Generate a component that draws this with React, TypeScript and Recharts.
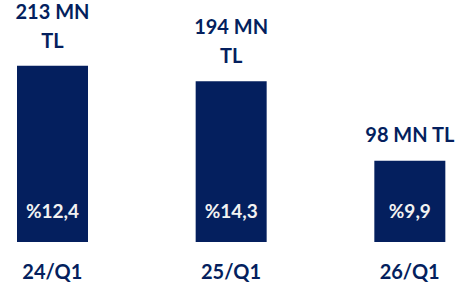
import { BarChart, Bar, XAxis, YAxis, LabelList } from "recharts";

const periods = ["24/Q1", "25/Q1", "26/Q1"];
const amounts = [213, 194, 98]; // MN TL
const rates = ["%12,4", "%14,3", "%9,9"];

const NAVY = "#041F5E";
const FONT = "Lato, 'Open Sans', sans-serif";

const data = periods.map((p, i) => ({
  period: p,
  amount: amounts[i],
  rate: rates[i],
}));

// Amount label above bar; long labels wrap like the original (three-digit values)
const AmountLabel = (props: any) => {
  const { x, y, width, value } = props;
  const cx = x + width / 2;
  const text = `${value} MN TL`;
  const wrap = text.length > 8;
  const style = { fontFamily: FONT, fontWeight: 700, fontSize: 20, fill: NAVY };
  if (wrap) {
    return (
      <g>
        <text x={cx} y={y - 47} textAnchor="middle" style={style}>
          {`${value} MN`}
        </text>
        <text x={cx} y={y - 18} textAnchor="middle" style={style}>
          TL
        </text>
      </g>
    );
  }
  return (
    <text x={cx} y={y - 19} textAnchor="middle" style={style}>
      {text}
    </text>
  );
};

// Rate label near the base of the bar
const RateLabel = (props: any) => {
  const { x, y, width, height, value } = props;
  return (
    <text
      x={x + width / 2}
      y={y + height - 24}
      textAnchor="middle"
      style={{ fontFamily: FONT, fontWeight: 700, fontSize: 19, fill: "#F2F2F2" }}
    >
      {value}
    </text>
  );
};

const PeriodTick = (props: any) => {
  const { x, y, payload } = props;
  return (
    <text
      x={x}
      y={y + 37}
      textAnchor="middle"
      style={{ fontFamily: FONT, fontWeight: 700, fontSize: 20, fill: NAVY }}
    >
      {payload.value}
    </text>
  );
};

export default function App() {
  return (
    <div
      style={{
        position: "absolute",
        left: 0,
        top: 0,
        width: 463,
        height: 293,
        overflow: "hidden",
        background: "#fff",
      }}
    >
      <div style={{ marginLeft: -37 }}>
        <BarChart
          width={536}
          height={293}
          data={data}
          margin={{ top: 35, right: 0, left: 0, bottom: 0 }}
        >
          <XAxis
            dataKey="period"
            axisLine={false}
            tickLine={false}
            tickSize={0}
            tickMargin={0}
            height={51}
            interval={0}
            tick={<PeriodTick />}
          />
          <YAxis hide domain={[0, 250]} />
          <Bar dataKey="amount" fill={NAVY} barSize={71} isAnimationActive={false}>
            <LabelList dataKey="amount" content={<AmountLabel />} />
            <LabelList dataKey="rate" content={<RateLabel />} />
          </Bar>
        </BarChart>
      </div>
    </div>
  );
}
